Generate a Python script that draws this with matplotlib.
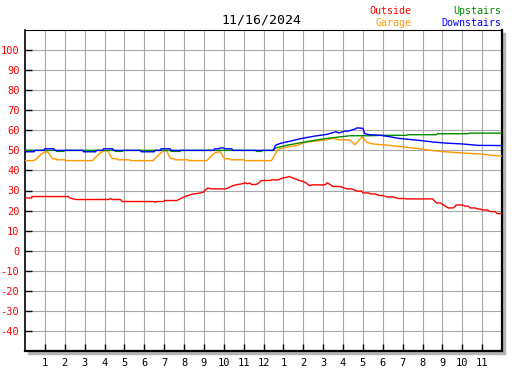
import numpy as np
import matplotlib.pyplot as plt
from matplotlib.patches import Rectangle

# hours since midnight and readings (deg F)
outside_h = [0, 0.34, 0.35, 2.18, 2.26, 2.43, 2.6, 4.2, 4.3, 4.4, 4.8, 4.9, 6.5, 6.55, 6.6, 6.95,
             7.05, 7.63, 7.8, 7.97, 8.2, 8.47, 8.8, 8.97, 9.1, 9.2, 9.4, 10.07, 10.25, 10.4, 10.6,
             10.9, 11.1, 11.2, 11.3, 11.4, 11.6, 11.7, 11.9, 12.35, 12.4, 12.75, 12.85, 13.0, 13.2,
             13.3, 13.45, 13.6, 13.8, 14.0, 14.15, 14.3, 14.5, 15.1, 15.2, 15.35, 15.5, 15.85,
             16.2, 16.45, 16.7, 16.95, 17.0, 17.3, 17.35, 17.6, 17.85, 18.0, 18.2, 18.5, 18.8,
             19.1, 19.2, 20.5, 20.55, 20.7, 20.9, 21.05, 21.3, 21.55, 21.65, 21.7, 22.0, 22.15,
             22.3, 22.4, 22.65, 22.8, 22.9, 23.0, 23.25, 23.4, 23.65, 23.75, 24]
outside_v = [26.3, 26.3, 27.0, 27.0, 26.3, 25.8, 25.5, 25.5, 26.0, 25.5, 25.5, 24.5, 24.5, 24.0, 24.5, 24.5,
             25.0, 25.0, 25.8, 26.7, 27.5, 28.3, 28.7, 29.2, 30.5, 31.2, 30.8, 30.8, 31.3, 32.2, 32.8,
             33.3, 33.8, 33.3, 33.8, 33.0, 33.0, 33.3, 35.0, 35.0, 35.3, 35.3, 35.8, 36.3, 36.7,
             37.0, 36.3, 35.8, 35.0, 34.5, 33.8, 32.5, 32.8, 32.8, 33.8, 33.0, 32.0, 32.0,
             30.8, 30.8, 29.7, 29.7, 28.8, 28.8, 28.3, 28.3, 27.5, 27.5, 26.8, 26.8, 26.0,
             26.0, 25.8, 25.8, 25.3, 23.8, 23.8, 22.8, 21.3, 21.3, 22.2, 22.8, 22.8, 22.2,
             22.2, 21.3, 21.3, 20.8, 20.8, 20.3, 20.3, 19.5, 19.5, 18.5, 18.5]

garage_h = [0, 0.45, 0.6, 0.8, 1.0, 1.15, 1.3, 1.4, 1.55, 1.6, 2.0, 2.05, 3.4,
            3.55, 3.8, 4.05, 4.2, 4.3, 4.4, 4.6, 4.65, 5.25, 5.3, 6.45,
            6.6, 6.85, 7.0, 7.15, 7.25, 7.35, 7.5, 7.55, 8.2, 8.25, 9.15,
            9.3, 9.5, 9.7, 9.85, 9.95, 10.05, 10.3, 10.35, 11.0, 11.05, 12.4,
            12.7, 12.8, 13.2, 13.7, 14.1, 14.5, 15.0, 15.2, 15.5, 15.8, 16.35, 16.6, 16.95,
            17.2, 17.5, 18.35, 19.05, 19.7, 20.2, 20.9, 21.55, 22.05, 22.9, 23.55, 24]
garage_v = [44.9, 44.9, 46.0, 48.0, 49.2, 49.2, 47.0, 45.8, 45.8, 45.3, 45.3, 44.9, 44.9,
            46.5, 48.8, 50.0, 49.5, 47.0, 45.9, 45.9, 45.3, 45.3, 44.9, 44.9,
            46.5, 48.8, 50.0, 49.5, 47.0, 45.9, 45.9, 45.3, 45.3, 44.9, 44.9,
            46.5, 48.5, 49.2, 49.2, 47.0, 45.8, 45.8, 45.3, 45.3, 44.9, 44.9,
            50.0, 50.7, 51.7, 52.5, 54.0, 54.5, 55.0, 55.3, 56.0, 55.3, 55.2, 52.8, 56.7,
            54.0, 53.2, 52.5, 51.7, 51.0, 50.3, 49.5, 49.0, 48.7, 48.2, 47.5, 47.2]

upstairs_h = [0, 1.55, 1.6, 1.95, 2.0, 4.5, 4.55, 4.9, 4.95, 7.3, 7.35, 7.8, 7.85, 11.6, 11.65,
              11.9, 11.95, 12.5, 12.6, 13.2, 14.2, 15.2, 16.0, 16.35, 17.4, 17.9, 19.2, 19.25,
              20.7, 20.75, 22.3, 22.35, 24]
upstairs_v = [50.0, 50.0, 49.5, 49.5, 50.0, 50.0, 49.5, 49.5, 50.0, 50.0, 49.5, 49.5, 50.0, 50.0, 49.5,
              49.5, 50.0, 50.0, 51.2, 52.6, 54.4, 56.0, 56.9, 57.3, 57.3, 57.5, 57.5, 57.8,
              57.8, 58.3, 58.3, 58.6, 58.6]

downstairs_h = [0, 0.45, 0.5, 0.95, 1.0, 1.45, 1.5, 2.9, 2.95, 3.55, 3.6, 3.9, 3.95, 4.4, 4.45,
                5.8, 5.85, 6.5, 6.55, 6.8, 6.85, 7.3, 7.35, 9.5, 9.55, 9.75, 9.8, 10.0, 10.05,
                10.4, 10.45, 12.5, 12.6, 12.85, 13.3, 13.85, 14.5, 15.2, 15.65, 15.8, 16.1, 16.25,
                16.6, 16.7, 17.0, 17.1, 17.35, 17.9, 18.35, 18.8, 19.4, 20.0, 20.5, 21.2, 22.0,
                22.8, 24]
downstairs_v = [49.3, 49.3, 50.0, 50.0, 50.8, 50.8, 50.0, 50.0, 49.3, 49.3, 50.0, 50.0, 50.8, 50.8, 50.0,
                50.0, 49.3, 49.3, 50.0, 50.0, 50.8, 50.8, 50.0, 50.0, 50.8, 50.8, 51.2, 51.2, 50.8,
                50.8, 50.0, 50.0, 52.5, 53.5, 54.5, 55.8, 57.0, 58.0, 59.3, 58.7, 59.6, 59.6,
                60.6, 61.2, 61.0, 58.3, 57.8, 57.5, 56.8, 56.0, 55.4, 54.8, 54.2, 53.6, 53.2,
                52.5, 52.4]

hour_labels = ['1', '2', '3', '4', '5', '6', '7', '8', '9', '10', '11', '12',
               '1', '2', '3', '4', '5', '6', '7', '8', '9', '10', '11']
y_ticks = list(range(-40, 101, 10))
title = '11/16/2024'

mono = 'DejaVu Sans Mono'
W, H = 527, 370
fig = plt.figure(figsize=(W / 100, H / 100), dpi=100)
# plot area in pixels: x 25..502, y 30..351
ax = fig.add_axes([25 / W, 1 - 351 / H, 477 / W, 321 / H])

ax.set_xlim(0, 24)
ax.set_ylim(-50, 110)

# grid
for h in range(1, 24):
    ax.axvline(h, color='#a8a8a8', lw=0.8, zorder=1)
for v in range(-40, 110, 10):
    ax.axhline(v, color='#a8a8a8', lw=0.8, zorder=1)

ax.plot(outside_h, outside_v, color='#ff0000', lw=1.0, zorder=3)
ax.plot(garage_h, garage_v, color='#ff9900', lw=1.0, zorder=3)
ax.plot(upstairs_h, upstairs_v, color='#008c00', lw=1.0, zorder=3)
ax.plot(downstairs_h, downstairs_v, color='#0000ff', lw=1.0, zorder=4)

ax.set_xticks(range(1, 24))
ax.set_xticklabels(hour_labels, fontfamily=mono, fontsize=7.5)
ax.set_yticks(y_ticks)
ax.set_yticklabels([str(v) for v in y_ticks], fontfamily=mono, fontsize=7.5, color='#ff0000')
ax.tick_params(axis='both', direction='in', length=5, width=1, color='black')
ax.tick_params(axis='x', pad=5)
ax.tick_params(axis='y', pad=4)

ax.spines['left'].set_linewidth(1.2)
ax.spines['top'].set_linewidth(0.8)
ax.spines['bottom'].set_linewidth(1.6)
ax.spines['right'].set_linewidth(1.6)

# light gray drop shadow along bottom and right edges
fig.add_artist(Rectangle((28 / W, 1 - 353.5 / H), 477 / W, 1.8 / H, transform=fig.transFigure,
                         color='#b4b4b4', zorder=0))
fig.add_artist(Rectangle((503.2 / W, 1 - 353.5 / H), 1.8 / W, 321 / H, transform=fig.transFigure,
                         color='#b4b4b4', zorder=0))

fig.text(261 / W, 1 - 20 / H, title, ha='center', va='center', fontfamily=mono, fontsize=9.5)
fig.text(411 / W, 1 - 11 / H, 'Outside', ha='right', va='center', fontfamily=mono, fontsize=7.2, color='#ff0000')
fig.text(411 / W, 1 - 23 / H, 'Garage', ha='right', va='center', fontfamily=mono, fontsize=7.2, color='#ff9900')
fig.text(501 / W, 1 - 11 / H, 'Upstairs', ha='right', va='center', fontfamily=mono, fontsize=7.2, color='#008c00')
fig.text(501 / W, 1 - 23 / H, 'Downstairs', ha='right', va='center', fontfamily=mono, fontsize=7.2, color='#0000ff')

fig.savefig('out.png', dpi=100)
